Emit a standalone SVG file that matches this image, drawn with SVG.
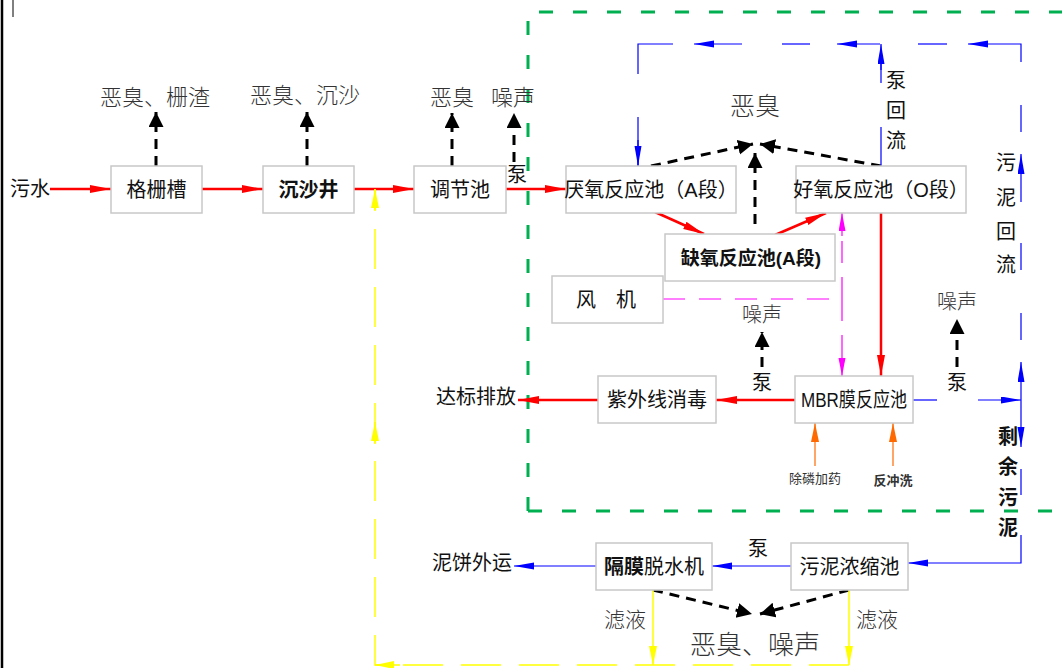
<svg xmlns="http://www.w3.org/2000/svg" width="1062" height="668" viewBox="0 0 1062 668">
<defs>
<style>
.box{fill:#fff;stroke:#c8c8c8;stroke-width:1.5}
.t{font-family:"Liberation Sans","Noto Sans CJK SC",sans-serif;font-size:20px;fill:#111;text-anchor:middle;dominant-baseline:central}
.a{font-family:"Liberation Serif","Noto Sans CJK SC",serif;font-size:22px;font-weight:300;fill:#333;text-anchor:middle;dominant-baseline:central}
.red{stroke:#ff0000;stroke-width:2.5;fill:none}
.blk{stroke:#000;stroke-width:3;fill:none;stroke-dasharray:10 7}
.blu{stroke:#0000ff;stroke-width:1.2;fill:none}
.mag{stroke:#ff00ff;stroke-width:1.2;fill:none;stroke-dasharray:22 14}
.magS{stroke:#ff00ff;stroke-width:1.2;fill:none}
.org{stroke:#ff6a00;stroke-width:1.2;fill:none}
.yel{stroke:#ffff00;stroke-width:1.5;fill:none}
.yeld{stroke:#ffff00;stroke-width:1.5;fill:none;stroke-dasharray:40 18}
.grn{stroke:#00b050;stroke-width:3;fill:none;stroke-dasharray:14 20}
</style>
<marker id="mr" markerUnits="userSpaceOnUse" markerWidth="22" markerHeight="10" refX="21" refY="4" orient="auto"><path d="M0,0 L21,4 L0,8 Z" fill="#ff0000"/></marker>
<marker id="mb" markerUnits="userSpaceOnUse" markerWidth="22" markerHeight="8" refX="20" refY="3.5" orient="auto"><path d="M0,0 L20,3.5 L0,7 Z" fill="#0000ff"/></marker>
<marker id="mk" markerUnits="userSpaceOnUse" markerWidth="16" markerHeight="16" refX="15" refY="7.5" orient="auto"><path d="M0,0 L15,7.5 L0,15 Z" fill="#000"/></marker>
<marker id="mm" markerUnits="userSpaceOnUse" markerWidth="20" markerHeight="8" refX="18" refY="3.5" orient="auto"><path d="M0,0 L18,3.5 L0,7 Z" fill="#ff00ff"/></marker>
<marker id="mo" markerUnits="userSpaceOnUse" markerWidth="20" markerHeight="10" refX="19" refY="4" orient="auto"><path d="M0,0 L19,4 L0,8 Z" fill="#ff6a00"/></marker>
<marker id="my" markerUnits="userSpaceOnUse" markerWidth="20" markerHeight="10" refX="19" refY="4" orient="auto"><path d="M0,0 L19,4 L0,8 Z" fill="#ffff00"/></marker>
</defs>
<rect width="1062" height="668" fill="#fff"/>
<line x1="2" y1="0" x2="2" y2="668" stroke="#000" stroke-width="2.5"/>
<line x1="13" y1="0" x2="13" y2="17" stroke="#000" stroke-width="1"/>

<!-- green boundary -->
<path class="grn" d="M528,511 V12 H1062 M528,511 H1062"/>

<g id="connectors">
<!-- red main flow -->
<path class="red" d="M50,189 H111" marker-end="url(#mr)"/>
<path class="red" d="M202,189 H263" marker-end="url(#mr)"/>
<path class="red" d="M354,189 H414" marker-end="url(#mr)"/>
<path class="red" d="M506,189 H566" marker-end="url(#mr)"/>
<path class="red" d="M655,212 L704,234" marker-end="url(#mr)"/>
<path class="red" d="M775,235 L826,213" marker-end="url(#mr)"/>
<path class="red" d="M881,213 V376" marker-end="url(#mr)"/>
<path class="red" d="M795,400 H716" marker-end="url(#mr)"/>
<path class="red" d="M598,400 H518" marker-end="url(#mr)"/>

<!-- black dashed emissions -->
<path class="blk" d="M156,166 V112" marker-end="url(#mk)"/>
<path class="blk" d="M307,166 V112" marker-end="url(#mk)"/>
<path class="blk" d="M452,166 V113" marker-end="url(#mk)"/>
<path class="blk" d="M514,162 V113" marker-end="url(#mk)"/>
<path class="blk" d="M651,166 L753,144" marker-end="url(#mk)"/>
<path class="blk" d="M881,166 L760,144" marker-end="url(#mk)"/>
<path class="blk" d="M755,224 V153" marker-end="url(#mk)"/>
<path class="blk" d="M762,367 V332" marker-end="url(#mk)"/>
<path class="blk" d="M957,367 V319" marker-end="url(#mk)"/>
<path class="blk" d="M653,590 L752,614" marker-end="url(#mk)"/>
<path class="blk" d="M849,590 L760,614" marker-end="url(#mk)"/>

<!-- blue return loop -->
<path class="blu" d="M638,74 V44 H673 M638,117 V166"/>
<path class="blu" d="M638,140 V166" marker-end="url(#mb)"/>
<path class="blu" d="M742,44 H694" marker-end="url(#mb)"/>
<path class="blu" d="M782,44 H810"/>
<path class="blu" d="M880,44 H837" marker-end="url(#mb)"/>
<path class="blu" d="M918,44 H947"/>
<path class="blu" d="M1021,62 V44 H968" marker-end="url(#mb)"/>
<path class="blu" d="M881,166 V127 M881,83 V60"/>
<path class="blu" d="M881,70 V44" marker-end="url(#mb)"/>
<path class="blu" d="M1021,105 V132 M1021,243 V270 M1021,313 V340"/>
<path class="blu" d="M1021,202 V154" marker-end="url(#mb)"/>
<path class="blu" d="M1021,400 V362" marker-end="url(#mb)"/>
<path class="blu" d="M1021,400 V447" marker-end="url(#mb)"/>
<path class="blu" d="M913,400 H937"/>
<path class="blu" d="M978,400 H1021" marker-end="url(#mb)"/>
<path class="blu" d="M1021,469 V495 M1021,535 V563 H908" marker-end="url(#mb)"/>
<path class="blu" d="M791,566 H712" marker-end="url(#mb)"/>
<path class="blu" d="M596,566 H514" marker-end="url(#mb)"/>

<!-- magenta air -->
<path class="mag" d="M663,299 H842"/>
<path class="mag" d="M842,299 V236"/>
<path class="mag" d="M842,299 V356"/>
<path class="magS" d="M842,236 V213" marker-end="url(#mm)"/>
<path class="magS" d="M842,356 V376" marker-end="url(#mm)"/>

<!-- orange dosing -->
<path class="org" d="M815,466 V423" marker-end="url(#mo)"/>
<path class="org" d="M893,466 V423" marker-end="url(#mo)"/>

<!-- yellow filtrate -->
<path class="yel" d="M653,590 V665" marker-end="url(#my)"/>
<path class="yel" d="M849,590 V665" marker-end="url(#my)"/>
<path class="yeld" d="M849,665 H375 V189"/>
<path class="yel" d="M400,665 H375" marker-end="url(#my)"/>
<path class="yel" d="M375,210 V189" marker-end="url(#my)"/>
<path class="yel" d="M375,444 V422" marker-end="url(#my)"/>
</g>

<g id="n-grille"><rect class="box" x="111" y="166" width="91" height="47"/><text class="t" x="156.5" y="190">格栅槽</text></g>
<g id="n-sand"><rect class="box" x="263" y="166" width="91" height="47"/><text class="t" x="308.5" y="190" font-weight="bold">沉沙井</text></g>
<g id="n-adjust"><rect class="box" x="414" y="166" width="92" height="47"/><text class="t" x="460" y="190">调节池</text></g>
<g id="n-anaerobic"><rect class="box" x="566" y="166" width="170" height="47"/><text class="t" x="651" y="190">厌氧反应池（A段）</text></g>
<g id="n-aerobic"><rect class="box" x="796" y="166" width="170" height="47"/><text class="t" x="881" y="190">好氧反应池（O段）</text></g>
<g id="n-anoxic"><rect class="box" x="665" y="234" width="170" height="47"/><text class="t" x="751" y="258" font-weight="bold" style="font-size:19px">缺氧反应池(A段)</text></g>
<g id="n-blower"><rect class="box" x="552" y="276" width="111" height="47"/><text class="t" x="606" y="300">风　机</text></g>
<g id="n-uv"><rect class="box" x="598" y="376" width="118" height="47"/><text class="t" x="657" y="400">紫外线消毒</text></g>
<g id="n-mbr"><rect class="box" x="795" y="376" width="118" height="47"/><text class="t" x="854" y="400" textLength="106" lengthAdjust="spacingAndGlyphs">MBR膜反应池</text></g>
<g id="n-dewater"><rect class="box" x="596" y="543" width="116" height="47"/><text class="t" x="654" y="567"><tspan font-weight="bold">隔膜</tspan>脱水机</text></g>
<g id="n-thickener"><rect class="box" x="791" y="543" width="117" height="47"/><text class="t" x="849.5" y="567">污泥浓缩池</text></g>

<g id="labels">
<text class="t" x="30" y="189">污水</text>
<text class="a" x="155" y="97">恶臭、栅渣</text>
<text class="a" x="305" y="95">恶臭、沉沙</text>
<text class="a" x="452" y="97">恶臭</text>
<text class="a" x="513" y="97">噪声</text>
<text class="t" x="517" y="175">泵</text>
<text class="a" x="755" y="106" style="font-size:25px">恶臭</text>
<text class="t" x="896" y="81">泵</text>
<text class="t" x="896" y="111">回</text>
<text class="t" x="896" y="141">流</text>
<text class="t" x="1006" y="163">污</text>
<text class="t" x="1006" y="198">泥</text>
<text class="t" x="1006" y="232">回</text>
<text class="t" x="1006" y="265">流</text>
<text class="t" x="1008" y="437" font-weight="bold">剩</text>
<text class="t" x="1008" y="467" font-weight="bold">余</text>
<text class="t" x="1008" y="498" font-weight="bold">污</text>
<text class="t" x="1008" y="528" font-weight="bold">泥</text>
<text class="a" x="762" y="315" style="font-size:20px">噪声</text>
<text class="t" x="762" y="383">泵</text>
<text class="a" x="957" y="302" style="font-size:20px">噪声</text>
<text class="t" x="957" y="383">泵</text>
<text class="t" x="815" y="478" style="font-size:13px;fill:#333">除磷加药</text>
<text class="t" x="893" y="480" style="font-size:13px;fill:#333;font-weight:bold">反冲洗</text>
<text class="t" x="476" y="397">达标排放</text>
<text class="t" x="472" y="563">泥饼外运</text>
<text class="t" x="758" y="549">泵</text>
<text class="a" x="625" y="620" style="font-size:21px">滤液</text>
<text class="a" x="877" y="620" style="font-size:21px">滤液</text>
<text class="a" x="755" y="645" style="font-size:26px">恶臭、噪声</text>
</g>
</svg>
